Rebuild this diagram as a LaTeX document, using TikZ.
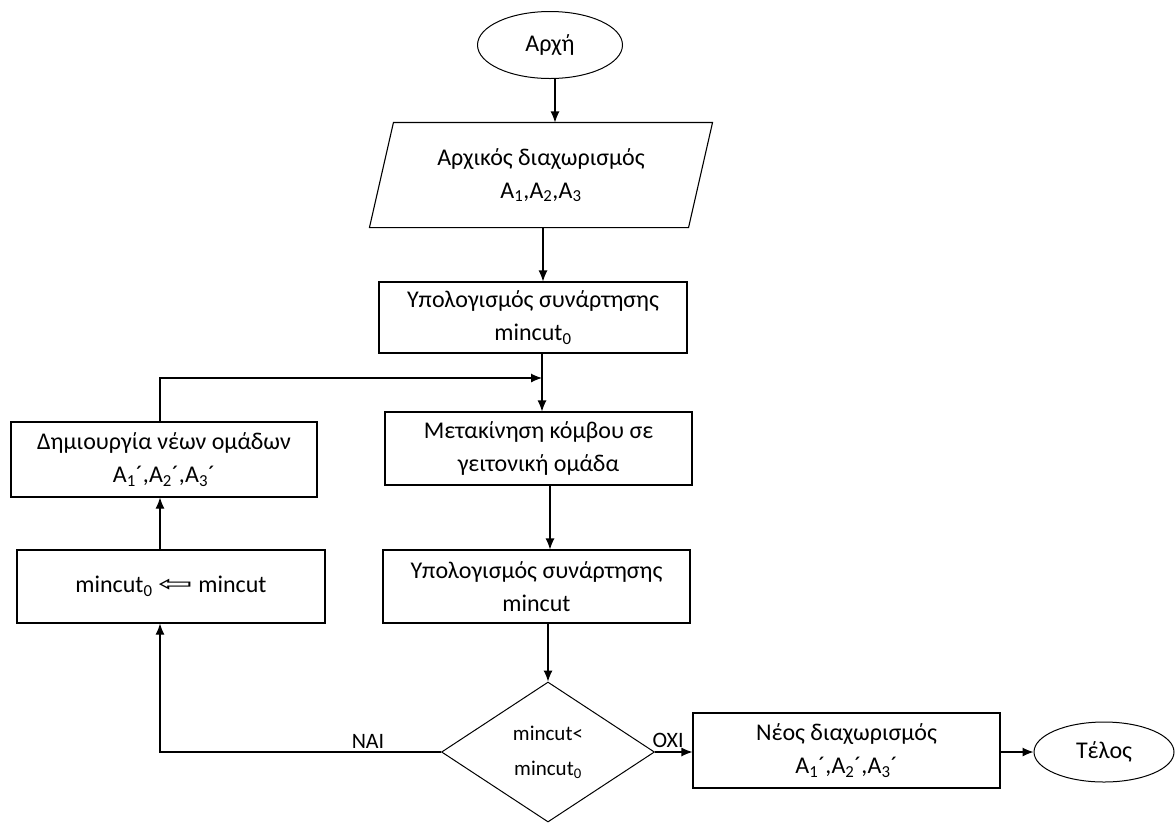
\documentclass[tikz,border=0pt]{standalone}
\usepackage{fontspec}
\usepackage{graphicx}
\setmainfont{Carlito}
\newfontfamily\symfont{DejaVu Sans}
\usetikzlibrary{shapes.geometric,arrows.meta,calc}

\tikzset{
  box/.style={draw, line width=1.1pt, rectangle, align=center, inner sep=0pt,
    font=\fontsize{24}{33}\selectfont},
  term/.style={draw, line width=1pt, ellipse, inner sep=0pt,
    font=\fontsize{24}{28}\selectfont},
  decide/.style={draw, line width=1pt, diamond, inner sep=0pt, aspect=1.52,
    align=center, font=\fontsize{21}{35}\selectfont},
  flow/.style={line width=1.1pt, -{Latex[length=11pt,width=9pt]}},
  tag/.style={font=\fontsize{22}{26}\selectfont}
}

\begin{document}
\begin{tikzpicture}[x=1pt,y=-1pt]
\useasboundingbox (0,0) rectangle (1175,823);

% terminals
\node[term, minimum width=145, minimum height=67] (start) at (550,45) {Αρχή};
\node[term, minimum width=140, minimum height=60] (stop) at (1104,752) {Τέλος};

% input parallelogram (outline drawn below)
\node[box, draw=none, minimum width=342, minimum height=104] (para) at (541,175)
  {Αρχικός διαχωρισμός\\A\textsubscript{1},A\textsubscript{2},A\textsubscript{3}};
\draw[line width=1.1pt] ($(para.north west)+(24,0)$) -- (para.north east)
  -- ($(para.south east)-(24,0)$) -- (para.south west) -- cycle;

% process boxes
\node[box, minimum width=308, minimum height=71] (calc0) at (533,317.5)
  {Υπολογισμός συνάρτησης\\mincut\textsubscript{0}};
\node[box, minimum width=307, minimum height=73] (move) at (538.5,448.5)
  {Μετακίνηση κόμβου σε\\γειτονική ομάδα};
\node[box, minimum width=307, minimum height=73] (calc) at (536.5,586.5)
  {Υπολογισμός συνάρτησης\\mincut};
\node[box, minimum width=306, minimum height=75] (newg) at (164,459.5)
  {Δημιουργία νέων ομάδων\\A\textsubscript{1}´,A\textsubscript{2}´,A\textsubscript{3}´};
\node[box, minimum width=308, minimum height=73] (upd) at (171,586.5)
  {mincut\textsubscript{0} \raisebox{1pt}{\scalebox{1.9}[1]{\symfont\fontsize{22}{24}\selectfont ⇦}} mincut};
\node[box, minimum width=307, minimum height=75] (newp) at (846.5,750.5)
  {Νέος διαχωρισμός\\A\textsubscript{1}´,A\textsubscript{2}´,A\textsubscript{3}´};

% decision
\node[decide, minimum width=213, minimum height=140] (dec) at (548,752)
  {mincut<\\mincut\textsubscript{0}};

% routing points
\coordinate (a1) at (555,0);
\coordinate (a2) at (543,0);
\coordinate (j) at (542,378);
\coordinate (a3) at (550,0);
\coordinate (lx) at (160,752);

% connectors
\draw[flow] (a1 |- start.south) -- (a1 |- para.north);
\draw[flow] (a2 |- para.south) -- (a2 |- calc0.north);
\draw[line width=1.1pt] (j |- calc0.south) -- (j);
\draw[flow] (j) -- (j |- move.north);
\draw[flow] (lx |- newg.north) |- (j);
\draw[flow] (a3 |- move.south) -- (a3 |- calc.north);
\draw[flow] (dec.north |- calc.south) -- (dec.north);
\draw[flow] (dec.east) -- (newp.west |- dec.east)
  node[tag, pos=0.35, above=0pt] {ΟΧΙ};
\draw[flow] (newp.east |- stop.west) -- (stop.west);
\draw[flow] (dec.west) -- (lx) -- (lx |- upd.south);
\node[tag, above=0pt] (nai) at (368,752) {ΝΑΙ};
\draw[flow] (lx |- upd.north) -- (lx |- newg.south);
\end{tikzpicture}
\end{document}
